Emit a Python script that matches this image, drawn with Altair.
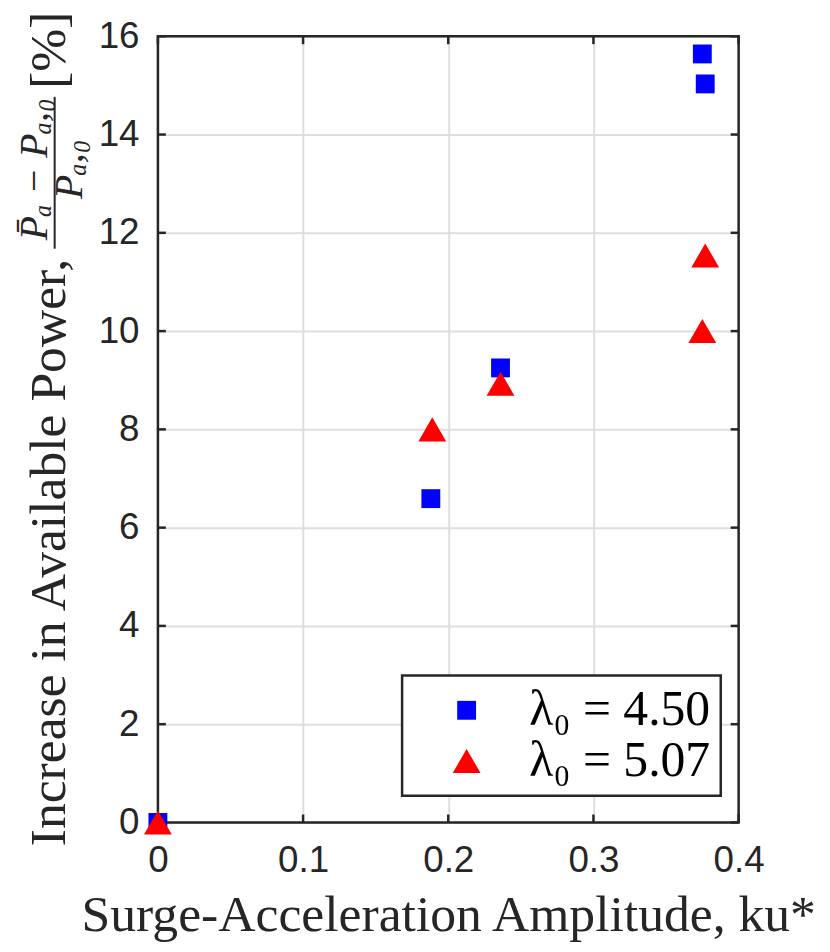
import altair as alt
import pandas as pd

# ---- data ----
series_names = ["λ₀ = 4.50", "λ₀ = 5.07"]
ku_blue = [0.0, 0.188, 0.236, 0.375, 0.377]
pa_blue = [0.0, 6.59, 9.25, 15.64, 15.03]
ku_red = [0.0, 0.189, 0.236, 0.375, 0.377]
pa_red = [0.0, 8.0, 8.93, 10.0, 11.54]
x_ticks = [0.0, 0.1, 0.2, 0.3, 0.4]
y_ticks = [0, 2, 4, 6, 8, 10, 12, 14, 16]

x_title = "Surge-Acceleration Amplitude, ku*"
y_title_main = "Increase in Available Power,"
y_title_num = "P̄ₐ − Pₐ,₀"
y_title_den = "Pₐ,₀"
y_title_unit = "[%]"

W, H = 585, 792
TL = 8  # tick length
AX = "#262626"
SERIF = "Liberation Serif"

pts = pd.DataFrame({
    "ku": ku_blue + ku_red,
    "pa": pa_blue + pa_red,
    "series": [series_names[0]] * len(ku_blue) + [series_names[1]] * len(ku_red),
})
xt = pd.DataFrame({"ku": x_ticks})
yt = pd.DataFrame({"pa": y_ticks})

xscale = alt.Scale(domain=[0, 0.4], nice=False, zero=False)
yscale = alt.Scale(domain=[0, 16], nice=False, zero=False)

x_axis = alt.Axis(values=x_ticks, format="~g", title=x_title, labelFlush=False, labelPadding=20)
y_axis = alt.Axis(values=y_ticks, format="~g", title=None, labelPadding=19)


def X():
    return alt.X("ku:Q", scale=xscale, axis=x_axis)


def Y():
    return alt.Y("pa:Q", scale=yscale, axis=y_axis)


legend = alt.Legend(
    title=None, orient="none", legendX=246, legendY=644,
    padding=10, strokeColor=AX, fillColor="white",
    labelFont=SERIF, labelFontSize=50, labelColor="black",
    symbolOffset=30, labelOffset=38, rowPadding=1, labelLimit=400,
    symbolStrokeWidth=0,
)

one = alt.Data(values=[{}])

frame = alt.Chart(one).mark_rect(
    fillOpacity=0, stroke=AX, strokeWidth=2.5
).encode(x=alt.value(0), x2=alt.value(W), y=alt.value(0), y2=alt.value(H))

tick_bottom = alt.Chart(xt).mark_rule(color=AX, strokeWidth=2.5).encode(
    x=X(), y=alt.value(H), y2=alt.value(H - TL))
tick_top = alt.Chart(xt).mark_rule(color=AX, strokeWidth=2.5).encode(
    x=X(), y=alt.value(0), y2=alt.value(TL))
tick_left = alt.Chart(yt).mark_rule(color=AX, strokeWidth=2.5).encode(
    y=Y(), x=alt.value(0), x2=alt.value(TL))
tick_right = alt.Chart(yt).mark_rule(color=AX, strokeWidth=2.5).encode(
    y=Y(), x=alt.value(W), x2=alt.value(W - TL))

# y-axis title pieces (rotated text, stacked fraction)
t_main = alt.Chart(one).mark_text(
    angle=270, align="left", baseline="alphabetic", font=SERIF, fontSize=52, color=AX
).encode(x=alt.value(-94), y=alt.value(816), text=alt.value(y_title_main))
t_num = alt.Chart(one).mark_text(
    angle=270, align="center", baseline="alphabetic", font=SERIF, fontSize=40,
    fontStyle="italic", color=AX
).encode(x=alt.value(-112), y=alt.value(134), text=alt.value(y_title_num))
t_den = alt.Chart(one).mark_text(
    angle=270, align="center", baseline="alphabetic", font=SERIF, fontSize=40,
    fontStyle="italic", color=AX
).encode(x=alt.value(-76), y=alt.value(134), text=alt.value(y_title_den))
t_bar = alt.Chart(one).mark_rule(color=AX, strokeWidth=2).encode(
    x=alt.value(-104), y=alt.value(61), y2=alt.value(214))
t_unit = alt.Chart(one).mark_text(
    angle=270, align="center", baseline="alphabetic", font=SERIF, fontSize=52, color=AX
).encode(x=alt.value(-94), y=alt.value(14), text=alt.value(y_title_unit))

points = alt.Chart(pts).mark_point(filled=True, opacity=1, strokeWidth=0).encode(
    x=X(), y=Y(),
    color=alt.Color("series:N", scale=alt.Scale(domain=series_names, range=["#0000ff", "#ff0000"]), legend=legend),
    shape=alt.Shape("series:N", scale=alt.Scale(domain=series_names, range=["square", "triangle-up"]), legend=legend),
    size=alt.Size("series:N", scale=alt.Scale(domain=series_names, range=[361, 784]), legend=legend),
)

chart = alt.layer(
    frame, tick_bottom, tick_top, tick_left, tick_right,
    t_main, t_num, t_den, t_bar, t_unit, points
).properties(
    width=W, height=H,
    padding={"left": 7, "top": 0, "right": 5, "bottom": 5},
).configure_view(stroke=None).configure_axis(
    domain=False, ticks=False, grid=True, gridColor="#dedede", gridWidth=2,
    labelFont="Liberation Sans", labelFontSize=37, labelColor=AX,
    titleFont=SERIF, titleFontSize=52, titleFontWeight="normal", titleColor=AX,
).configure_axisX(titlePadding=12).configure_legend(
    strokeWidth=2.5
)

chart.save("out.html", embed_options={"renderer": "svg", "actions": False})
